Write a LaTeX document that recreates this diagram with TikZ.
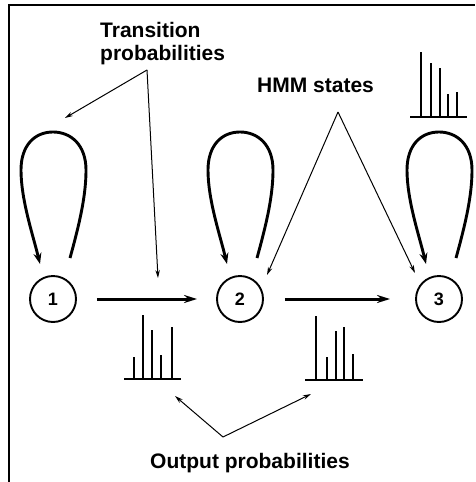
\documentclass[tikz,border=0pt]{standalone}
\usepackage{fontspec}
\setmainfont{Liberation Sans}
\usetikzlibrary{arrows.meta}
\begin{document}
\begin{tikzpicture}[x=1pt,y=-1pt,
  state/.style={circle,draw,line width=1.9pt,minimum size=46pt,inner sep=0pt,font=\fontsize{18}{18}\selectfont\bfseries},
  lbl/.style={font=\fontsize{21}{23}\selectfont\bfseries,inner sep=0pt,align=left},
  loopline/.style={line width=2.9pt,-{Stealth[length=11pt,width=8pt]}},
  trans/.style={line width=3pt,-{Stealth[length=13pt,width=8pt]}},
  note/.style={line width=1pt,-{Stealth[length=8pt,width=4.5pt]}},
  bar/.style={line width=2pt},
  histbase/.style={line width=2.6pt}]
\useasboundingbox (0,0) rectangle (475,482);
\draw[line width=1.8pt] (9,482) -- (9,5) -- (475,5);

% states
\node[state] (n1) at (53,299) {1};
\node[state] (n2) at (240,299) {2};
\node[state] (n3) at (439,299) {3};

% transitions
\draw[trans,shorten <=20pt,shorten >=19pt] (n1) -- (n2);
\draw[trans,shorten <=21pt,shorten >=25pt] (n2) -- (n3);

% self loops
\foreach \n in {n1,n2,n3}{
  \begin{scope}[shift={(\n.center)}]
    \draw[loopline] (17,-41) .. controls (27,-77) and (33,-104) .. (33,-129)
      .. controls (33,-154) and (18,-167) .. (0,-167)
      .. controls (-18,-167) and (-32,-154) .. (-32,-129)
      .. controls (-32,-99) and (-20,-64) .. (-13,-35);
  \end{scope}
}

% histograms
\draw[histbase] (410,117) -- (467,117);
\foreach \x/\t in {421/52,431/63,440/68,448/94,457/92}
  \draw[bar] (\x,117) -- (\x,\t);
\draw[histbase] (124,379) -- (181,379);
\foreach \x/\t in {134/357,143/315,152/330,161/355,172/327}
  \draw[bar] (\x,379) -- (\x,\t);
\draw[histbase] (305,380) -- (363,380);
\foreach \x/\t in {316/316,327/357,336/331,344/327,353/354}
  \draw[bar] (\x,380) -- (\x,\t);

% labels
\node[lbl,anchor=base west] (tl) at (100,60) {Transition\\probabilities};
\node[lbl,anchor=base west] (hl) at (257,92) {HMM states};
\node[lbl,anchor=base west] (ol) at (150,468) {Output probabilities};

% annotation arrows
\coordinate (tA) at (147,70);
\coordinate (tL) at (65,118);
\coordinate (tD) at (158,278);
\draw[note] (tA) -- (tL);
\draw[note] (tA) -- (tD);
\coordinate (hA) at (338,112);
\coordinate (hL) at (267,275);
\coordinate (hR) at (415,273);
\draw[note] (hA) -- (hL);
\draw[note] (hA) -- (hR);
\coordinate (oA) at (223,437);
\coordinate (oL) at (175,396);
\coordinate (oR) at (311,394);
\draw[note] (oA) -- (oL);
\draw[note] (oA) -- (oR);
\end{tikzpicture}
\end{document}
